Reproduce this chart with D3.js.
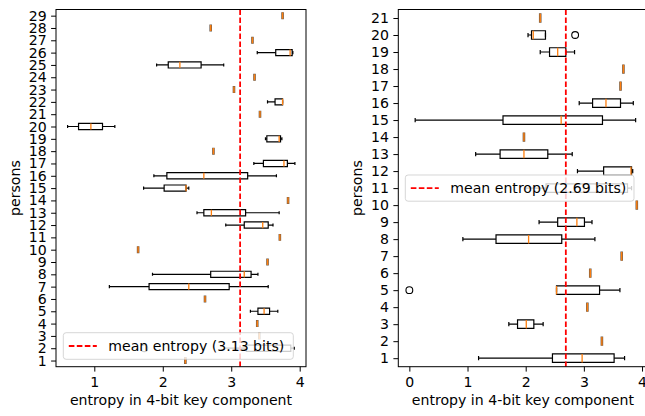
<!DOCTYPE html>
<html><head><meta charset="utf-8">
<script src="https://cdn.jsdelivr.net/npm/d3@7"></script>
<style>body{margin:0;background:#fff}svg{display:block;font-family:"DejaVu Sans",sans-serif}</style>
</head><body><svg id="c" width="645" height="416"></svg>
<script>
// ---------- LEFT PANEL DATA (persons 1..29) ----------
const leftPersons = d3.range(1, 30);
const leftLo  = [2.33,2.90,3.41,3.38,3.28,2.617,1.22,1.85,3.53,1.64,3.71,2.92,2.50,3.83,1.72,1.87,3.33,2.74,3.50,0.61,3.42,3.53,3.04,3.34,1.91,3.38,3.31,2.70,3.75];
const leftQ1  = [2.33,3.22,3.41,3.38,3.39,2.617,1.80,2.70,3.53,1.64,3.71,3.19,2.60,3.83,2.02,2.06,3.47,2.74,3.52,0.77,3.42,3.64,3.04,3.34,2.08,3.65,3.31,2.70,3.75];
const leftMed = [2.33,3.55,3.41,3.38,3.48,2.617,2.38,3.19,3.53,1.64,3.71,3.46,2.71,3.83,2.34,2.60,3.77,2.74,3.70,0.95,3.42,3.75,3.04,3.34,2.25,3.86,3.31,2.70,3.75];
const leftQ3  = [2.33,3.87,3.41,3.38,3.56,2.617,2.97,3.29,3.53,1.64,3.71,3.54,3.21,3.83,2.34,3.24,3.82,2.74,3.72,1.12,3.42,3.75,3.04,3.34,2.56,3.89,3.31,2.70,3.75];
const leftHi  = [2.33,3.92,3.41,3.38,3.68,2.617,3.54,3.39,3.53,1.64,3.71,3.61,3.70,3.83,2.38,3.66,3.93,2.74,3.74,1.30,3.42,3.75,3.04,3.34,2.89,3.90,3.31,2.70,3.75];
const leftFliers = [[2, 1.73]];
const leftMean = 3.13;
const leftTicks = [1, 2, 3, 4];

// ---------- RIGHT PANEL DATA (persons 1..21) ----------
const rightPersons = d3.range(1, 22);
const rightLo  = [1.19,3.31,1.71,3.06,2.53,3.11,3.65,0.92,2.23,3.91,2.00,2.89,1.14,1.97,0.10,2.92,3.63,3.68,2.25,2.04,2.25];
const rightQ1  = [2.46,3.31,1.86,3.06,2.53,3.11,3.65,1.49,2.55,3.91,2.35,3.34,1.56,1.97,1.61,3.15,3.63,3.68,2.41,2.10,2.25];
const rightMed = [2.97,3.31,2.01,3.06,2.53,3.11,3.65,2.05,2.88,3.91,3.00,3.81,1.97,1.97,2.61,3.38,3.63,3.68,2.55,2.13,2.25];
const rightQ3  = [3.52,3.31,2.14,3.06,3.27,3.11,3.65,2.62,3.01,3.91,3.75,3.82,2.38,1.97,3.32,3.63,3.63,3.68,2.69,2.34,2.25];
const rightHi  = [3.70,3.31,2.30,3.06,3.62,3.11,3.65,3.19,3.14,3.91,3.82,3.84,2.80,1.97,3.89,3.85,3.63,3.68,2.84,2.34,2.25];
const rightFliers = [[5, 0.0], [20, 2.85]];
const rightMean = 2.69;
const rightTicks = [0, 1, 2, 3, 4];

const xLabel = "entropy in 4-bit key component";
const yLabel = "persons";
const FS = 14.1;

const svg = d3.select("#c");

function panel(o) {
  const g = svg.append("g");
  const x = d3.scaleLinear().domain(o.xDomain).range([o.x0, o.x1]);
  const y = d3.scaleLinear().domain([0.5, o.persons.length + 0.5]).range([o.y1, o.y0]);
  const step = Math.abs(y(1) - y(2));
  const bh = step * 0.5, ch = bh * 0.5;
  const clipId = "clip" + o.id;
  svg.append("clipPath").attr("id", clipId).append("rect")
    .attr("x", o.x0).attr("y", o.y0).attr("width", o.x1 - o.x0).attr("height", o.y1 - o.y0);
  const pg = g.append("g").attr("clip-path", `url(#${clipId})`);
  const line = (x1, y1, x2, y2, c, w) => pg.append("line").attr("x1", x1).attr("y1", y1).attr("x2", x2).attr("y2", y2)
    .attr("stroke", c || "#000").attr("stroke-width", w || 1.2);
  o.persons.forEach((p, i) => {
    const cy = y(p);
    const lo = o.lo[i], q1 = o.q1[i], md = o.med[i], q3 = o.q3[i], hi = o.hi[i];
    if (lo === hi) {
      // degenerate box: every value equal
      line(x(md), cy - bh / 2 - 0.4, x(md), cy + bh / 2 + 0.4, "#6b5a4a", 2.6);
      line(x(md), cy - bh / 2, x(md), cy + bh / 2, "#ff7f0e", 1.4);
      return;
    }
    line(x(lo), cy, x(q1), cy);
    line(x(q3), cy, x(hi), cy);
    line(x(lo), cy - ch / 2, x(lo), cy + ch / 2);
    line(x(hi), cy - ch / 2, x(hi), cy + ch / 2);
    pg.append("path").attr("d", `M${x(q1)},${cy - bh / 2}H${x(q3)}V${cy + bh / 2}H${x(q1)}Z`)
      .attr("fill", "none").attr("stroke", "#000").attr("stroke-width", 1.2);
    line(x(md), cy - bh / 2, x(md), cy + bh / 2, "#ff7f0e", 1.3);
  });
  o.fliers.forEach(([p, v]) => {
    pg.append("circle").attr("cx", x(v)).attr("cy", y(p)).attr("r", 3.4)
      .attr("fill", "none").attr("stroke", "#000").attr("stroke-width", 1.1);
  });
  // mean line
  pg.append("line").attr("x1", x(o.mean)).attr("x2", x(o.mean)).attr("y1", o.y0).attr("y2", o.y1)
    .attr("stroke", "#ff0000").attr("stroke-width", 1.8).attr("stroke-dasharray", "5.6,2.4");
  // axes
  const xa = g.append("g").attr("transform", `translate(0,${o.y1})`)
    .call(d3.axisBottom(x).tickValues(o.xTicks).tickFormat(d3.format("d")).tickSize(4.9).tickPadding(5.5));
  const ya = g.append("g").attr("transform", `translate(${o.x0},0)`)
    .call(d3.axisLeft(y).tickValues(o.persons).tickFormat(d3.format("d")).tickSize(4.9).tickPadding(4.4));
  [xa, ya].forEach(a => {
    a.select(".domain").remove();
    a.selectAll("text").attr("font-size", FS).attr("fill", "#000").attr("font-family", "DejaVu Sans");
    a.selectAll("line").attr("stroke", "#000").attr("stroke-width", 1);
  });
  g.append("rect").attr("x", o.x0).attr("y", o.y0).attr("width", o.x1 - o.x0).attr("height", o.y1 - o.y0)
    .attr("fill", "none").attr("stroke", "#000").attr("stroke-width", 1);
  g.append("text").attr("x", (o.x0 + o.x1) / 2).attr("y", o.y1 + 38.5).attr("text-anchor", "middle")
    .attr("font-size", FS).text(xLabel);
  g.append("text").attr("transform", `translate(${o.ylx},${(o.y0 + o.y1) / 2}) rotate(-90)`)
    .attr("text-anchor", "middle").attr("dy", "0.35em").attr("font-size", FS).text(yLabel);
  // legend
  const L = o.legend;
  g.append("rect").attr("x", L.x).attr("y", L.y).attr("width", L.w).attr("height", L.h).attr("rx", 2.8)
    .attr("fill", "#fff").attr("fill-opacity", 0.8).attr("stroke", "#cccccc").attr("stroke-opacity", 0.8);
  const ly = L.y + L.h / 2;
  g.append("line").attr("x1", L.x + 5.5).attr("x2", L.x + 33.5).attr("y1", ly).attr("y2", ly)
    .attr("stroke", "#ff0000").attr("stroke-width", 1.8).attr("stroke-dasharray", "5.6,2.4");
  g.append("text").attr("x", L.x + 45).attr("y", ly).attr("dy", "0.35em").attr("font-size", FS)
    .text(`mean entropy (${o.mean.toFixed(2)} bits)`);
}

panel({id: "L", persons: leftPersons, lo: leftLo, q1: leftQ1, med: leftMed, q3: leftQ3, hi: leftHi,
  fliers: leftFliers, mean: leftMean, xTicks: leftTicks, xDomain: [0.4406, 4.092],
  x0: 56, x1: 306, y0: 9.5, y1: 366.7, ylx: 15,
  legend: {x: 63.3, y: 332.7, w: 230, h: 26.6}});
panel({id: "R", persons: rightPersons, lo: rightLo, q1: rightQ1, med: rightMed, q3: rightQ3, hi: rightHi,
  fliers: rightFliers, mean: rightMean, xTicks: rightTicks, xDomain: [-0.19, 4.094],
  x0: 398.3, x1: 647.5, y0: 9.5, y1: 366.7, ylx: 357.5,
  legend: {x: 405.3, y: 175, w: 228.7, h: 26.2}});
</script></body></html>
